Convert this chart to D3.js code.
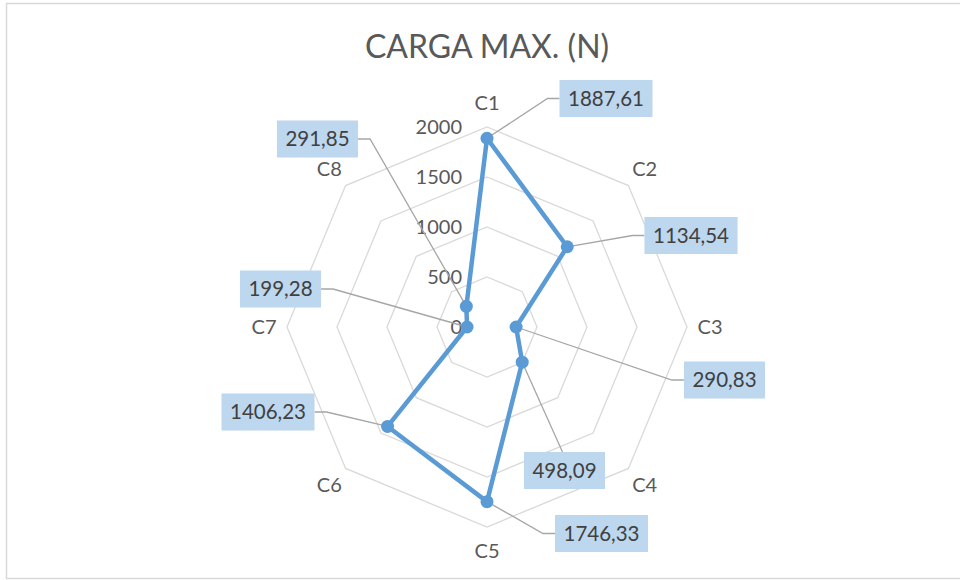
<!DOCTYPE html>
<html>
<head>
<meta charset="utf-8">
<script src="https://cdn.jsdelivr.net/npm/d3@7"></script>
<style>
  html, body { margin: 0; padding: 0; background: #fff; }
  svg { display: block; font-family: "Lato", "Open Sans", sans-serif; }
</style>
</head>
<body>
<svg id="chart" width="960" height="580"></svg>
<script>
// Categories, values and ring ticks
const categories = ["C1", "C2", "C3", "C4", "C5", "C6", "C7", "C8"];
const values = [1887.61, 1134.54, 290.83, 498.09, 1746.33, 1406.23, 199.28, 291.85];
const ringTicks = [0, 500, 1000, 1500, 2000];
const valueLabels = ["1887,61", "1134,54", "290,83", "498,09", "1746,33", "1406,23", "199,28", "291,85"];

// Label box placement (box centre) and which side the leader leaves from
const labelLayout = [
  { x: 606, y: 98.5, side: "left" },
  { x: 691, y: 235.5, side: "left" },
  { x: 724.5, y: 380, side: "left" },
  { x: 564.5, y: 470.5, side: "top" },
  { x: 601.5, y: 533.5, side: "left" },
  { x: 268, y: 412, side: "right" },
  { x: 280.5, y: 289, side: "right" },
  { x: 317.5, y: 139, side: "right" }
];

const svg = d3.select("#chart");
const cx = 487, cy = 327, R = 200;

// Outer chart frame
svg.append("rect")
  .attr("x", 6.5).attr("y", 3.5)
  .attr("width", 960).attr("height", 575)
  .attr("fill", "#fff").attr("stroke", "#d9d9d9").attr("stroke-width", 1.5);

// Title
svg.append("text")
  .attr("x", 487).attr("y", 58)
  .attr("text-anchor", "middle")
  .attr("font-size", 32)
  .attr("fill", "#595959")
  .text("CARGA MAX. (N)");

const r = d3.scaleLinear().domain([0, 2000]).range([0, R]);
const angle = d3.scalePoint().domain(categories).range([0, 2 * Math.PI * 7 / 8]);

const pt = (cat, v) => {
  const a = angle(cat);
  return [cx + r(v) * Math.sin(a), cy - r(v) * Math.cos(a)];
};

// Octagonal grid rings
const g = svg.append("g");
g.selectAll("path.ring")
  .data(ringTicks.filter(t => t > 0))
  .join("path")
  .attr("class", "ring")
  .attr("d", t => d3.line()(categories.map(c => pt(c, t))) + "Z")
  .attr("fill", "none")
  .attr("stroke", "#d9d9d9")
  .attr("stroke-width", 1.3);

// Ring tick labels along the first axis
g.selectAll("text.tick")
  .data(ringTicks)
  .join("text")
  .attr("class", "tick")
  .attr("x", cx - 25)
  .attr("y", t => cy - r(t))
  .attr("dy", "0.35em")
  .attr("text-anchor", "end")
  .attr("font-size", 20)
  .attr("fill", "#595959")
  .text(t => t);

// Category labels
g.selectAll("text.cat")
  .data(categories)
  .join("text")
  .attr("class", "cat")
  .attr("x", c => cx + 223 * Math.sin(angle(c)))
  .attr("y", c => cy - 224 * Math.cos(angle(c)))
  .attr("dy", "0.35em")
  .attr("text-anchor", "middle")
  .attr("font-size", 20)
  .attr("fill", "#595959")
  .text(c => c);

const points = categories.map((c, i) => pt(c, values[i]));

// Leader lines from each label to its point
const leaders = svg.append("g");
const boxes = svg.append("g");

// Series outline
svg.append("path")
  .attr("d", d3.line()(points) + "Z")
  .attr("fill", "none")
  .attr("stroke", "#5b9bd5")
  .attr("stroke-width", 4.5)
  .attr("stroke-linejoin", "round");

// Markers
svg.append("g").selectAll("circle")
  .data(points)
  .join("circle")
  .attr("cx", d => d[0]).attr("cy", d => d[1])
  .attr("r", 6.5)
  .attr("fill", "#5b9bd5");

// Data labels
valueLabels.forEach((txt, i) => {
  const L = labelLayout[i];
  const t = boxes.append("text")
    .attr("x", L.x).attr("y", L.y)
    .attr("dy", "0.36em")
    .attr("text-anchor", "middle")
    .attr("font-size", 20.5)
    .attr("fill", "#404040")
    .text(txt);
  const bb = t.node().getBBox();
  const w = bb.width + 17, h = 37;
  boxes.insert("rect", "text")
    .attr("x", L.x - w / 2).attr("y", L.y - h / 2)
    .attr("width", w).attr("height", h)
    .attr("fill", "#bdd7ee");
  const p = points[i];
  let path;
  if (L.side === "left") {
    const x0 = L.x - w / 2;
    path = [[x0, L.y], [x0 - 12, L.y], p];
  } else if (L.side === "right") {
    const x0 = L.x + w / 2;
    path = [[x0, L.y], [x0 + 12, L.y], p];
  } else {
    path = [[L.x - 2, L.y - h / 2], p];
  }
  leaders.append("path")
    .attr("d", d3.line()(path))
    .attr("fill", "none")
    .attr("stroke", "#a6a6a6")
    .attr("stroke-width", 1.3);
});
</script>
</body>
</html>
